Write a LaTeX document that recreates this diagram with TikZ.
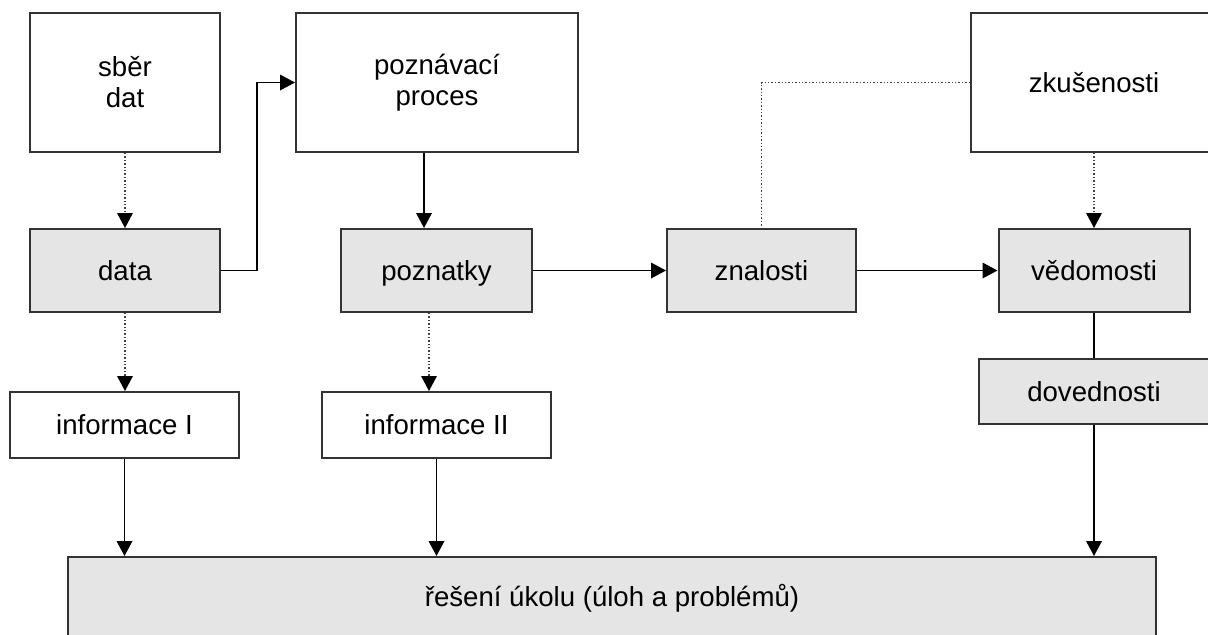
\documentclass[tikz,border=0pt]{standalone}
\usepackage{fontspec}
\setmainfont{Liberation Sans}
\usetikzlibrary{arrows.meta}
\begin{document}
\begin{tikzpicture}[x=0.5pt,y=-0.5pt,
  font=\fontsize{13.8pt}{15.5pt}\selectfont,
  whitebox/.style={draw=black!80, line width=1pt, fill=white, inner sep=0pt, align=center},
  graybox/.style={whitebox, fill=black!10},
  oneline/.style={text height=9.9pt, text depth=0pt},
  conn/.style={line width=0.8pt, black},
  dotline/.style={line width=0.7pt, black!75, densely dotted},
  witharrow/.style={-{Triangle[length=7.5pt,width=7.8pt,color=black]}},
]
\useasboundingbox (0,0) rectangle (1208,634);
\fill[white] (0,0) rectangle (1208,634);
\clip (0,0) rectangle (1208,634);

% boxes
\node[whitebox, minimum width=95pt, minimum height=69.5pt] (sber) at (125,82.5) {sběr\\dat};
\node[graybox, oneline, minimum width=95pt, minimum height=41.5pt] (data) at (125,270.5) {data};
\node[whitebox, minimum width=141pt, minimum height=69.5pt] (proces) at (437,82.5) {poznávací\\proces};
\node[graybox, oneline, minimum width=95.5pt, minimum height=41.5pt] (poznatky) at (436.5,270.5) {poznatky};
\node[graybox, oneline, minimum width=94.5pt, minimum height=41.5pt] (znalosti) at (761.5,270.5) {znalosti};
\node[whitebox, oneline, minimum width=123pt, minimum height=69.5pt] (zkus) at (1094,82.5) {zkušenosti};
\node[graybox, oneline, minimum width=95.5pt, minimum height=41.5pt] (vedom) at (1094,270.5) {vědomosti};
\node[graybox, oneline, minimum width=115.5pt, minimum height=32.5pt] (doved) at (1094,391.5) {dovednosti};
\node[whitebox, oneline, minimum width=114.5pt, minimum height=33pt] (info1) at (124.5,425) {informace I};
\node[whitebox, oneline, minimum width=114.5pt, minimum height=33pt] (info2) at (436.5,425) {informace II};
\node[graybox, oneline, minimum width=544pt, minimum height=39.5pt] (ukol) at (612,596.5) {řešení úkolu (úloh a problémů)};

% connectors
\draw[dotline, witharrow] (sber.south) -- (data.north);
\draw[conn, witharrow] (data.east) -- ++(36,0) |- (proces.west);
\draw[conn, witharrow] ([xshift=-6.5pt]proces.south) -- ([xshift=-6.5pt]proces.south |- poznatky.north);
\draw[conn, witharrow] (poznatky) -- (znalosti);
\draw[conn, witharrow] (znalosti) -- (vedom);
\draw[dotline] (zkus.west) -| (znalosti.north);
\draw[dotline, witharrow] (zkus.south) -- (vedom.north);
\draw[conn] (vedom.south) -- (doved.north);
\draw[conn, witharrow] (doved.south) -- (doved.south |- ukol.north);
\draw[dotline, witharrow] (data.south) -- (data.south |- info1.north);
\draw[conn, witharrow] (info1.south) -- (info1.south |- ukol.north);
\draw[dotline, witharrow] ([xshift=-3.75pt]poznatky.south) -- ([xshift=-3.75pt]poznatky.south |- info2.north);
\draw[conn, witharrow] (info2.south) -- (info2.south |- ukol.north);
\end{tikzpicture}
\end{document}
